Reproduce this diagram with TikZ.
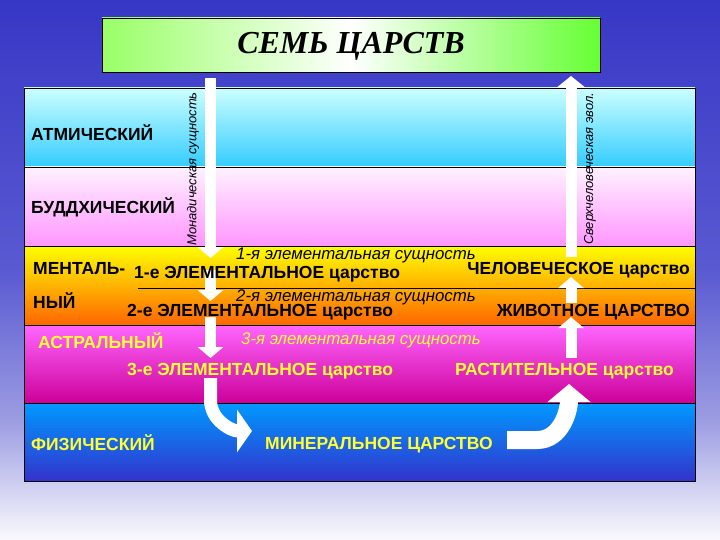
\documentclass[tikz,border=0pt]{standalone}
\usepackage{fontspec}
\setmainfont{Liberation Sans}
\newfontfamily\titlefont{Liberation Serif}
\usetikzlibrary{arrows.meta}

\definecolor{bgA}{HTML}{3737C6}
\definecolor{bgB}{HTML}{5A5AD2}
\definecolor{bgC}{HTML}{9C9CE2}
\definecolor{bgD}{HTML}{FAFAFD}
\definecolor{yel}{HTML}{FFFF33}

\begin{document}
\begin{tikzpicture}[x=1pt,y=-1pt,
    plane/.style={draw=black, line width=0.8pt},
    lbl/.style={font=\fontsize{17.5}{20}\selectfont\bfseries, inner sep=0pt},
    ess/.style={font=\fontsize{16.8}{19}\selectfont\itshape, inner sep=0pt},
    vtxt/.style={font=\fontsize{13}{15}\selectfont\itshape, rotate=90, inner sep=0pt},
    blk/.style={white, line width=11pt, -{Triangle[width=25pt,length=11pt]}}]

    \useasboundingbox (0,0) rectangle (720,540);

    % the background
    \shade[top color=bgA, bottom color=bgB] (0,0) rectangle (720,270);
    \shade[top color=bgB, bottom color=bgC] (0,270) rectangle (720,420);
    \shade[top color=bgC, bottom color=bgD] (0,420) rectangle (720,540);

    % the title
    \shade[left color={rgb,255:red,153;green,255;blue,102}, right color={rgb,255:red,102;green,255;blue,51}, middle color=white] (102,18) rectangle (600,72);
    \draw[black, line width=0.6pt] (102,18) rectangle (600,72);
    \node[font=\titlefont\fontsize{32}{36}\selectfont\bfseries\itshape] (title) at (351,46) {СЕМЬ ЦАРСТВ};

    % draw the planes
    \shade[top color={rgb,255:red,204;green,255;blue,255}, bottom color={rgb,255:red,51;green,204;blue,255}] (24,88) rectangle (695,167);
    \shade[top color={rgb,255:red,255;green,242;blue,255}, bottom color={rgb,255:red,255;green,150;blue,255}] (24,167) rectangle (695,246);
    \shade[top color={rgb,255:red,255;green,255;blue,0}, bottom color={rgb,255:red,255;green,102;blue,0}] (24,246) rectangle (695,325);
    \shade[top color={rgb,255:red,255;green,102;blue,255}, bottom color={rgb,255:red,204;green,0;blue,153}] (24,325) rectangle (695,403);
    \shade[top color={rgb,255:red,0;green,153;blue,255}, bottom color={rgb,255:red,51;green,51;blue,204}] (24,403) rectangle (695,481);
    \draw[plane] (24,88) rectangle (695,481);
    \draw[plane] (24,167) -- (695,167);
    \draw[plane] (24,246) -- (695,246);
    \draw[plane] (24,325) -- (695,325);
    \draw[plane] (24,403) -- (695,403);
    \draw[black, line width=0.6pt] (138,288) -- (695,288);

    % the arrow ends
    \coordinate (monTop) at (210.5,78);
    \coordinate (monTip) at (210.5,258);
    \coordinate (e2Top) at (210.5,270);
    \coordinate (e2Tip) at (210.5,301);
    \coordinate (e3Top) at (210.5,317);
    \coordinate (e3Tip) at (210.5,358);
    \coordinate (mnTop) at (210.5,378);
    \coordinate (mnTip) at (252,431);
    \coordinate (mnEnd) at (507,440);
    \coordinate (veTip) at (569,384);
    \coordinate (veTop) at (571,358);
    \coordinate (anTip) at (571,317);
    \coordinate (anTop) at (571,303);
    \coordinate (huTip) at (571,277);
    \coordinate (suBot) at (571,257);
    \coordinate (suTip) at (571,76);

    % draw the arrows
    \draw[blk] (monTop) -- (monTip);
    \draw[blk] (e2Top) -- (e2Tip);
    \draw[blk] (e3Top) -- (e3Tip);
    \draw[white, line width=13pt, -{Triangle[width=42pt,length=15pt]}] (mnTop) -- ++(0,22) to[out=-90,in=180] (mnTip);
    \draw[white, line width=18pt, -{Triangle[width=42pt,length=18pt]}] (mnEnd) -- ++(30,0) to[out=0,in=-90] (veTip);
    \draw[blk] (veTop) -- (anTip);
    \draw[blk] (anTop) -- (huTip);
    \draw[blk, -{Triangle[width=29pt,length=12pt]}] (suBot) -- (suTip);

    % the vertical texts
    \node[vtxt] (monad) at (193,169) {Монадическая сущность};
    \node[vtxt] (super) at (590,169) {Сверхчеловеческая эвол.};

    % the names of the planes
    \node[lbl, anchor=west] (atm) at (31,133) {АТМИЧЕСКИЙ};
    \node[lbl, anchor=west] (bud) at (31,207) {БУДДХИЧЕСКИЙ};
    \node[lbl, anchor=west] (men1) at (33,269) {МЕНТАЛЬ-};
    \node[lbl, anchor=west] (men2) at (33,301) {НЫЙ};
    \node[lbl, anchor=west, yel] (ast) at (38,341) {АСТРАЛЬНЫЙ};
    \node[lbl, anchor=west, yel] (fiz) at (31,443) {ФИЗИЧЕСКИЙ};

    % the kingdoms
    \node[ess, anchor=west] (es1) at (236,255) {1-я элементальная сущность};
    \node[lbl, anchor=west] (el1) at (134,274) {1-е ЭЛЕМЕНТАЛЬНОЕ царство};
    \node[lbl, anchor=east] (hum) at (690,270) {ЧЕЛОВЕЧЕСКОЕ царство};
    \node[ess, anchor=west] (es2) at (236,297) {2-я элементальная сущность};
    \node[lbl, anchor=west] (el2) at (127,312) {2-е ЭЛЕМЕНТАЛЬНОЕ царство};
    \node[lbl, anchor=east] (ani) at (690,312) {ЖИВОТНОЕ ЦАРСТВО};
    \node[ess, anchor=west, yel] (es3) at (241,340) {3-я элементальная сущность};
    \node[lbl, anchor=west, yel] (el3) at (127,371) {3-е ЭЛЕМЕНТАЛЬНОЕ царство};
    \node[lbl, anchor=east, yel] (veg) at (674,371) {РАСТИТЕЛЬНОЕ царство};
    \node[lbl, anchor=west, yel] (min) at (265,445) {МИНЕРАЛЬНОЕ ЦАРСТВО};

\end{tikzpicture}
\end{document}
